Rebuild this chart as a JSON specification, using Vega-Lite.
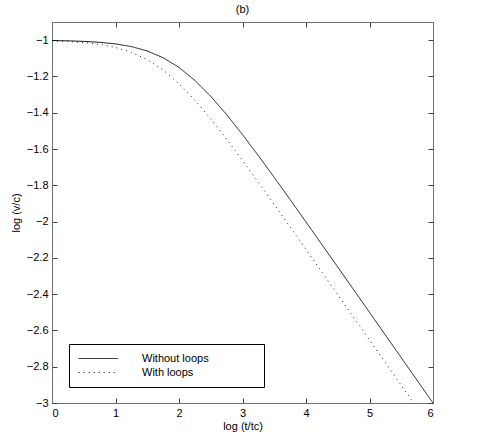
{
  "$schema": "https://vega.github.io/schema/vega-lite/v6.json",
  "width": 381,
  "height": 381,
  "autosize": {"type": "none"},
  "padding": {"left": 52, "top": 22, "right": 55, "bottom": 29},
  "background": "white",
  "title": {"text": "(b)", "fontSize": 11, "font": "Liberation Sans", "fontWeight": "normal", "color": "black", "offset": 7},
  "config": {
    "view": {"stroke": null},
    "font": "Liberation Sans",
    "axis": {"grid": false, "domainColor": "#707070", "tickColor": "#404040", "labelFont": "Liberation Sans", "titleFont": "Liberation Sans", "labelFontSize": 11, "titleFontSize": 11, "titleFontWeight": "normal", "labelColor": "black", "titleColor": "black", "tickSize": -5}
  },
  "data": {"values": [
    {"x": 0, "y": -1.0022, "series": "Without loops"},
    {"x": 0.25, "y": -1.0038, "series": "Without loops"},
    {"x": 0.5, "y": -1.0068, "series": "Without loops"},
    {"x": 0.75, "y": -1.0119, "series": "Without loops"},
    {"x": 1, "y": -1.0207, "series": "Without loops"},
    {"x": 1.25, "y": -1.0355, "series": "Without loops"},
    {"x": 1.5, "y": -1.0597, "series": "Without loops"},
    {"x": 1.75, "y": -1.0969, "series": "Without loops"},
    {"x": 2, "y": -1.1505, "series": "Without loops"},
    {"x": 2.25, "y": -1.2219, "series": "Without loops"},
    {"x": 2.5, "y": -1.3097, "series": "Without loops"},
    {"x": 2.75, "y": -1.4105, "series": "Without loops"},
    {"x": 3, "y": -1.5207, "series": "Without loops"},
    {"x": 3.25, "y": -1.6369, "series": "Without loops"},
    {"x": 3.5, "y": -1.7568, "series": "Without loops"},
    {"x": 3.75, "y": -1.8788, "series": "Without loops"},
    {"x": 4, "y": -2.0022, "series": "Without loops"},
    {"x": 4.5, "y": -2.2507, "series": "Without loops"},
    {"x": 5, "y": -2.5002, "series": "Without loops"},
    {"x": 5.5, "y": -2.7501, "series": "Without loops"},
    {"x": 6, "y": -3.0, "series": "Without loops"},
    {"x": 0, "y": -1.0043, "series": "With loops"},
    {"x": 0.25, "y": -1.0077, "series": "With loops"},
    {"x": 0.5, "y": -1.0135, "series": "With loops"},
    {"x": 0.75, "y": -1.0234, "series": "With loops"},
    {"x": 1, "y": -1.04, "series": "With loops"},
    {"x": 1.25, "y": -1.0666, "series": "With loops"},
    {"x": 1.5, "y": -1.1073, "series": "With loops"},
    {"x": 1.75, "y": -1.1648, "series": "With loops"},
    {"x": 2, "y": -1.24, "series": "With loops"},
    {"x": 2.25, "y": -1.331, "series": "With loops"},
    {"x": 2.5, "y": -1.4343, "series": "With loops"},
    {"x": 2.75, "y": -1.546, "series": "With loops"},
    {"x": 3, "y": -1.6632, "series": "With loops"},
    {"x": 3.25, "y": -1.7836, "series": "With loops"},
    {"x": 3.5, "y": -1.906, "series": "With loops"},
    {"x": 3.75, "y": -2.0296, "series": "With loops"},
    {"x": 4, "y": -2.1538, "series": "With loops"},
    {"x": 4.5, "y": -2.403, "series": "With loops"},
    {"x": 5, "y": -2.6528, "series": "With loops"},
    {"x": 5.5, "y": -2.9027, "series": "With loops"},
    {"x": 5.6946, "y": -3.0, "series": "With loops"}
  ]},
  "layer": [
    {
      "mark": {"type": "line", "strokeWidth": 1, "color": "#1a1a1a", "clip": true},
      "encoding": {
        "x": {"field": "x", "type": "quantitative", "scale": {"domain": [0, 6], "nice": false, "zero": false},
              "axis": {"orient": "bottom", "values": [0, 1, 2, 3, 4, 5, 6], "title": "log (t/tc)", "labelPadding": 9, "titlePadding": 2}},
        "y": {"field": "y", "type": "quantitative", "scale": {"domain": [-3, -0.9], "nice": false, "zero": false},
              "axis": {"orient": "left", "values": [-3, -2.8, -2.6, -2.4, -2.2, -2, -1.8, -1.6, -1.4, -1.2, -1], "format": ".1~f", "title": "log (v/c)", "labelPadding": 9, "titlePadding": 5}},
        "strokeDash": {"field": "series", "type": "nominal",
              "scale": {"domain": ["Without loops", "With loops"], "range": [[1, 0], [1, 4]]},
              "legend": {"title": null, "orient": "none", "legendX": 17, "legendY": 322, "padding": 9,
                         "strokeColor": "black", "fillColor": "white", "symbolType": "M-1,0L7,0", "symbolSize": 95,
                         "symbolStrokeColor": "black", "symbolFillColor": "transparent", "symbolStrokeWidth": 1, "labelOffset": 53, "labelFontSize": 11,
                         "labelFont": "Liberation Sans", "labelColor": "black", "rowPadding": 2,
                         "labelExpr": "datum.label + '\u00a0\u00a0\u00a0\u00a0\u00a0\u00a0\u00a0\u00a0\u00a0\u00a0\u00a0\u00a0\u00a0\u00a0\u00a0\u200b'"}}
      }
    },
    {
      "mark": {"type": "line", "strokeOpacity": 0},
      "encoding": {
        "x": {"field": "x", "type": "quantitative", "scale": {"domain": [0, 6], "nice": false, "zero": false},
              "axis": {"orient": "top", "values": [0, 1, 2, 3, 4, 5, 6], "labels": false, "title": null}},
        "y": {"field": "y", "type": "quantitative", "scale": {"domain": [-3, -0.9], "nice": false, "zero": false},
              "axis": {"orient": "right", "values": [-3, -2.8, -2.6, -2.4, -2.2, -2, -1.8, -1.6, -1.4, -1.2, -1], "labels": false, "title": null}},
        "detail": {"field": "series", "type": "nominal"}
      }
    }
  ],
  "resolve": {"axis": {"x": "independent", "y": "independent"}}
}
